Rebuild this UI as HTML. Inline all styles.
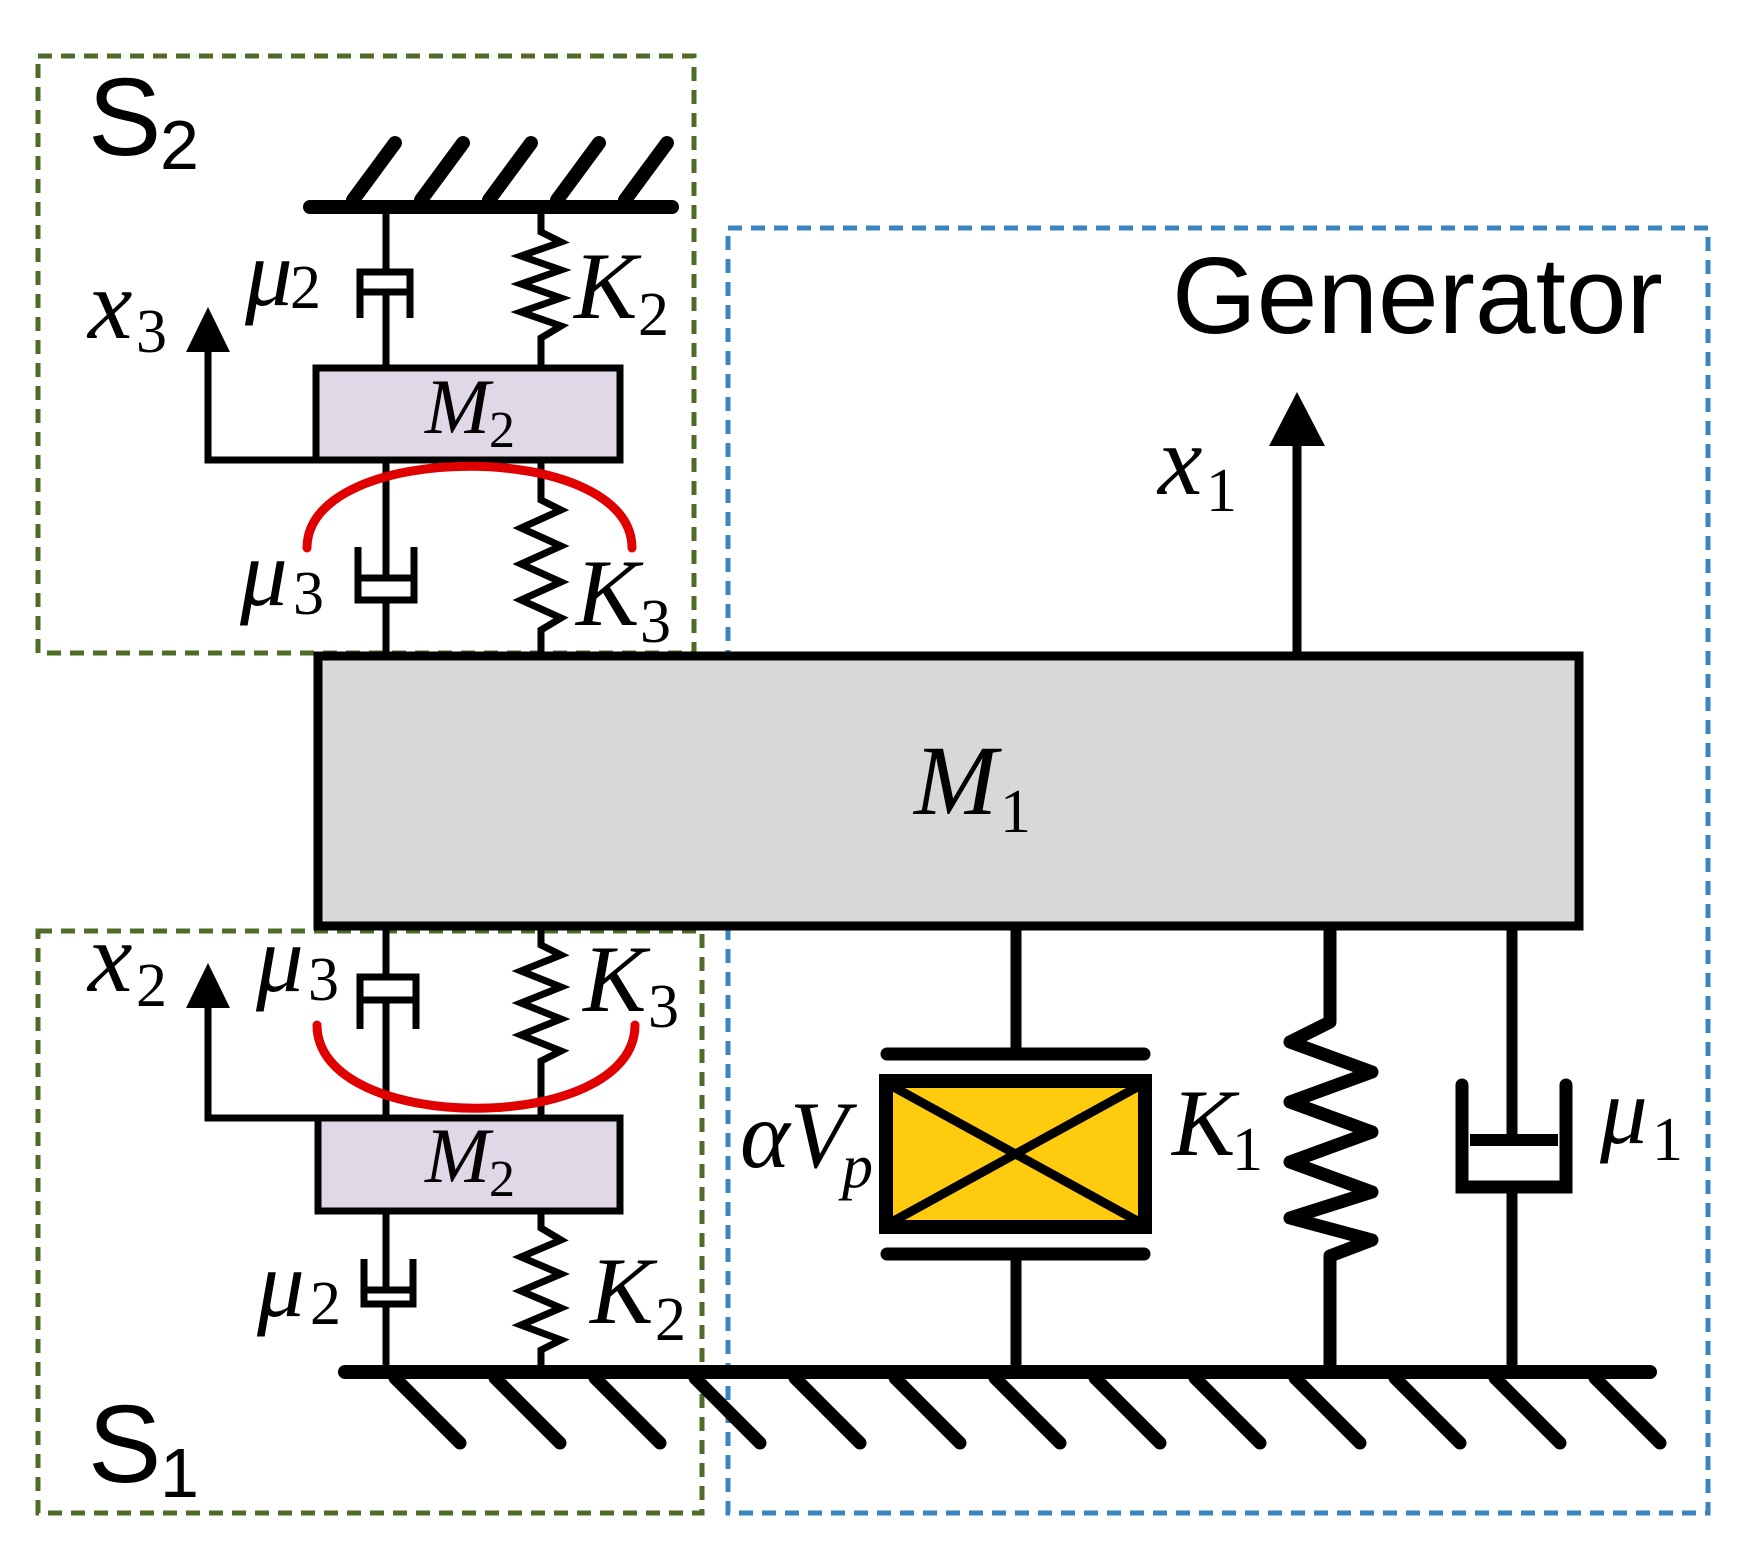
<!DOCTYPE html>
<html><head><meta charset="utf-8"><style>
html,body{margin:0;padding:0;background:#fff;}
svg{display:block;}
.m{font-family:"Liberation Serif",serif;font-style:italic;fill:#000;}
.s{font-family:"Liberation Serif",serif;fill:#000;}
.a{font-family:"Liberation Sans",sans-serif;fill:#000;}
</style></head><body>
<svg width="1760" height="1561" viewBox="0 0 1760 1561" xmlns="http://www.w3.org/2000/svg">
<rect width="1760" height="1561" fill="#fff"/>
<g fill="none" stroke-width="5" stroke-dasharray="14 9">
<rect x="38" y="56" width="656" height="597" stroke="#4f6b28"/>
<rect x="38" y="931" width="664" height="582" stroke="#4f6b28"/>
<rect x="728" y="228" width="980" height="1285" stroke="#3a85c0"/>
</g>
<g stroke="#000" fill="none" stroke-linecap="round">
<line x1="310" y1="207" x2="672" y2="207" stroke-width="14"/>
<g stroke-width="14">
<line x1="353" y1="200" x2="395" y2="143"/><line x1="421" y1="200" x2="463" y2="143"/><line x1="489" y1="200" x2="531" y2="143"/><line x1="557" y1="200" x2="599" y2="143"/><line x1="625" y1="200" x2="667" y2="143"/>
</g>
<line x1="345" y1="1372" x2="1650" y2="1372" stroke-width="14"/>
<g stroke-width="13">
<line x1="395" y1="1378" x2="460" y2="1443"/><line x1="495" y1="1378" x2="560" y2="1443"/><line x1="595" y1="1378" x2="660" y2="1443"/><line x1="695" y1="1378" x2="760" y2="1443"/><line x1="795" y1="1378" x2="860" y2="1443"/><line x1="895" y1="1378" x2="960" y2="1443"/><line x1="995" y1="1378" x2="1060" y2="1443"/><line x1="1095" y1="1378" x2="1160" y2="1443"/><line x1="1195" y1="1378" x2="1260" y2="1443"/><line x1="1295" y1="1378" x2="1360" y2="1443"/><line x1="1395" y1="1378" x2="1460" y2="1443"/><line x1="1495" y1="1378" x2="1560" y2="1443"/><line x1="1595" y1="1378" x2="1660" y2="1443"/>
</g>
</g>
<g stroke="#000" fill="none" stroke-width="7" stroke-linecap="butt" stroke-linejoin="miter">
<line x1="386" y1="207" x2="386" y2="272"/><path d="M360,318 V272 H410 V318"/><line x1="362" y1="292" x2="408" y2="292"/><line x1="386" y1="292" x2="386" y2="368"/>
<polyline points="541,212 541,232 561,242 521,256 561,270 521,284 561,298 521,312 561,326 541,338 541,368"/>
<line x1="386" y1="460" x2="386" y2="578"/><path d="M358,547 V600 H414 V547"/><line x1="360" y1="578" x2="412" y2="578"/><line x1="386" y1="600" x2="386" y2="653"/>
<polyline points="541,460 541,500 561,510 521,528 561,546 521,564 561,582 521,600 561,618 541,630 541,653"/>
<line x1="386" y1="930" x2="386" y2="977"/><path d="M360,1029 V977 H416 V1029"/><line x1="362" y1="1000" x2="414" y2="1000"/><line x1="386" y1="1000" x2="386" y2="1118"/>
<polyline points="541,930 541,945 561,955 521,971 561,987 521,1003 561,1019 521,1035 561,1051 541,1061 541,1118"/>
<line x1="386" y1="1211" x2="386" y2="1290"/><path d="M364,1259 V1304 H413 V1259"/><line x1="366" y1="1290" x2="411" y2="1290"/><line x1="386" y1="1304" x2="386" y2="1372"/>
<polyline points="541,1211 541,1228 561,1240 521,1257 561,1274 521,1291 561,1308 521,1325 561,1340 541,1350 541,1372"/>
</g>
<g stroke="#000" stroke-width="7" fill="none">
<polyline points="208,345 208,460 316,460"/>
<polyline points="208,1110 208,1118 316,1118"/>
<line x1="208" y1="1118" x2="208" y2="1005"/>
</g>
<polygon points="208,307 186,352 230,352" fill="#000"/>
<polygon points="208,963 186,1008 230,1008" fill="#000"/>
<rect x="316" y="368" width="304" height="92" fill="#e0d8e6" stroke="#000" stroke-width="7"/>
<rect x="318" y="1118" width="302" height="93" fill="#e0d8e6" stroke="#000" stroke-width="7"/>
<rect x="318" y="656" width="1261" height="270" fill="#d8d8d8" stroke="#000" stroke-width="9"/>
<path d="M307,548 C307,439 632,439 632,548" fill="none" stroke="#e00000" stroke-width="9" stroke-linecap="round"/>
<path d="M317,1025 C317,1136 635,1136 635,1025" fill="none" stroke="#e00000" stroke-width="9" stroke-linecap="round"/>
<line x1="1297" y1="652" x2="1297" y2="440" stroke="#000" stroke-width="9"/>
<polygon points="1297,392 1269,446 1325,446" fill="#000"/>
<g stroke="#000" stroke-width="11" fill="none">
<line x1="1016" y1="926" x2="1016" y2="1053"/>
<line x1="1016" y1="1255" x2="1016" y2="1372"/>
<line x1="1512" y1="926" x2="1512" y2="1140"/>
<line x1="1512" y1="1187" x2="1512" y2="1372"/>
</g>
<g stroke="#000" stroke-width="13" stroke-linecap="round" fill="none">
<line x1="887" y1="1054" x2="1144" y2="1054"/>
<line x1="887" y1="1254" x2="1144" y2="1254"/>
</g>
<rect x="886" y="1081" width="259" height="146" fill="#fecb0e" stroke="#000" stroke-width="14"/>
<line x1="890" y1="1085" x2="1141" y2="1223" stroke="#000" stroke-width="9"/>
<line x1="1141" y1="1085" x2="890" y2="1223" stroke="#000" stroke-width="9"/>
<polyline points="1330,926 1330,1022 1290,1042 1372,1072 1290,1102 1372,1132 1290,1162 1372,1192 1290,1218 1372,1240 1330,1256 1330,1372" fill="none" stroke="#000" stroke-width="13" stroke-linejoin="round"/>
<path d="M1462,1085 V1187 H1566 V1085" fill="none" stroke="#000" stroke-width="13" stroke-linecap="round"/>
<line x1="1470" y1="1140" x2="1558" y2="1140" stroke="#000" stroke-width="12"/>
<text class="a" x="88" y="155" font-size="110">S</text><text class="a" x="160" y="169" font-size="70">2</text>
<text class="a" x="88" y="1482" font-size="110">S</text><text class="a" x="160" y="1497" font-size="70">1</text>
<text class="a" x="1172" y="333" font-size="109">Generator</text>
<text class="m" x="245" y="305" font-size="95">μ</text><text class="s" x="290" y="308" font-size="62">2</text>
<text class="m" x="574" y="318" font-size="95">K</text><text class="s" x="638" y="335" font-size="62">2</text>
<text class="m" x="88" y="338" font-size="100">x</text><text class="s" x="136" y="352" font-size="62">3</text>
<text class="m" x="240" y="605" font-size="95">μ</text><text class="s" x="293" y="614" font-size="62">3</text>
<text class="m" x="576" y="625" font-size="95">K</text><text class="s" x="640" y="642" font-size="62">3</text>
<text class="m" x="88" y="991" font-size="100">x</text><text class="s" x="136" y="1006" font-size="62">2</text>
<text class="m" x="256" y="991" font-size="95">μ</text><text class="s" x="308" y="1000" font-size="62">3</text>
<text class="m" x="583" y="1011" font-size="95">K</text><text class="s" x="648" y="1027" font-size="62">3</text>
<text class="m" x="257" y="1316" font-size="95">μ</text><text class="s" x="310" y="1324" font-size="62">2</text>
<text class="m" x="590" y="1323" font-size="95">K</text><text class="s" x="655" y="1340" font-size="62">2</text>
<text class="m" x="425" y="433" font-size="78">M</text><text class="s" x="489" y="447" font-size="52">2</text>
<text class="m" x="425" y="1182" font-size="78">M</text><text class="s" x="489" y="1196" font-size="52">2</text>
<text class="m" x="914" y="814" font-size="100">M</text><text class="s" x="1000" y="832" font-size="62">1</text>
<text class="m" x="1158" y="494" font-size="100">x</text><text class="s" x="1206" y="511" font-size="62">1</text>
<text class="m" x="1172" y="1155" font-size="95">K</text><text class="s" x="1232" y="1170" font-size="62">1</text>
<text class="m" x="1600" y="1143" font-size="95">μ</text><text class="s" x="1652" y="1160" font-size="62">1</text>
<text class="m" x="740" y="1167" font-size="95">αV</text><text class="m" x="842" y="1187" font-size="62">p</text>
</svg>
</body></html>
